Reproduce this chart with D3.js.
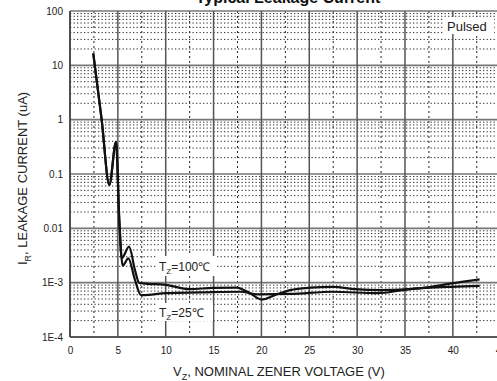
<!DOCTYPE html>
<html><head><meta charset="utf-8">
<script src="https://cdn.jsdelivr.net/npm/d3@7"></script>
<style>
html,body{margin:0;padding:0;background:#fff;overflow:hidden}
svg{display:block;font-family:"Liberation Sans",Arial,sans-serif}
</style></head>
<body><svg id="c" width="497" height="381"></svg>
<script>
// ---- data ----
const xTicks = [0,5,10,15,20,25,30,35,40,45];
const yTicks = [1e-4,1e-3,0.01,0.1,1,10,100];
const yTickLabels = ["1E-4","1E-3","0.01","0.1","1","10","100"];
// Tz = 100 C
const vHot = [2.43,3.31,4.11,4.81,5.15,5.40,6.17,6.79,7.21,7.63,10.0,12.5,14.9,17.4,18.8,20.0,21.4,23.0,25.1,27.5,29.8,32.4,35.5,37.6,39.9,42.8];
const iHot = [16.6,0.99,0.063,0.39,0.0142,0.0028,0.0046,0.0017,0.00100,0.00097,0.00091,0.00076,0.00080,0.00081,0.00064,0.00049,0.00059,0.00073,0.00081,0.00084,0.00076,0.00073,0.00076,0.00083,0.00097,0.00115];
// Tz = 25 C
const vCold = [2.43,3.31,4.11,4.81,5.15,5.51,6.09,6.79,7.42,7.63,10.0,13.6,17.8,19.6,23.0,27.5,32.1,35.5,39.9,42.8];
const iCold = [16.6,0.99,0.063,0.39,0.0142,0.00205,0.0028,0.00112,0.00059,0.00059,0.00064,0.00066,0.00068,0.00061,0.00062,0.00068,0.00064,0.00076,0.00084,0.00087];

const svg = d3.select("#c");
const x = d3.scaleLinear().domain([0,45]).range([70,500.7]);
const y = d3.scaleLog().domain([1e-4,100]).range([337,11]);
const [x0,x1] = x.range(), [yb,yt] = y.range();

const g = svg.append("g");
// minor horizontal dotted lines
const minorY = [];
for (let d=-4; d<2; d++) for (let m=2; m<=9; m++) minorY.push(m*Math.pow(10,d));
g.selectAll("line.my").data(minorY).join("line")
  .attr("x1",x0).attr("x2",x1).attr("y1",d=>y(d)).attr("y2",d=>y(d))
  .attr("stroke","#2a2a2a").attr("stroke-width",1).attr("stroke-dasharray","1.3,2.2");
// minor vertical dash-dot lines
const minorX = d3.range(2.5,45,5);
g.selectAll("line.mx").data(minorX).join("line")
  .attr("x1",d=>x(d)).attr("x2",d=>x(d)).attr("y1",yt).attr("y2",yb)
  .attr("stroke","#222").attr("stroke-width",1).attr("stroke-dasharray","2,3");
// major horizontal
g.selectAll("line.My").data(yTicks).join("line")
  .attr("x1",x0).attr("x2",x1).attr("y1",d=>y(d)).attr("y2",d=>y(d))
  .attr("stroke","#777").attr("stroke-width",1.6);
// major vertical
g.selectAll("line.Mx").data(xTicks).join("line")
  .attr("x1",d=>x(d)).attr("x2",d=>x(d)).attr("y1",yt).attr("y2",yb)
  .attr("stroke","#555").attr("stroke-width",1.5);
// frame
g.append("line").attr("x1",x0).attr("x2",x0).attr("y1",yt).attr("y2",yb).attr("stroke","#444").attr("stroke-width",1.6);
g.append("line").attr("x1",x0).attr("x2",x1).attr("y1",yb).attr("y2",yb).attr("stroke","#444").attr("stroke-width",1.6);

// annotation boxes
function box(bx,by,bw,bh){svg.append("rect").attr("x",bx).attr("y",by).attr("width",bw).attr("height",bh).attr("fill","#fff");}
box(157,256,58,20);
box(157,303,56,18);
box(444,17,50,17);

// curves
const line = d3.line().x(d=>x(d[0])).y(d=>y(d[1])).curve(d3.curveMonotoneX);
[[vHot,iHot],[vCold,iCold]].forEach(([v,i])=>{
  svg.append("path").datum(v.map((vv,k)=>[vv,i[k]])).attr("d",line)
    .attr("fill","none").attr("stroke","#111").attr("stroke-width",2.2).attr("stroke-linejoin","round");
});

// axes
const xa = svg.append("g").attr("transform",`translate(0,${yb})`)
  .call(d3.axisBottom(x).tickValues(xTicks).tickSize(0).tickPadding(10).tickFormat(d3.format("d")));
xa.select(".domain").remove();
xa.selectAll("text").attr("font-size",10).attr("fill","#222").attr("font-family","Liberation Sans, Arial, sans-serif");
const ya = svg.append("g").attr("transform",`translate(${x0},0)`)
  .call(d3.axisLeft(y).tickValues(yTicks).tickSize(0).tickPadding(7).tickFormat((d,k)=>yTickLabels[k]));
ya.select(".domain").remove();
ya.selectAll("text").attr("font-size",10).attr("fill","#222").attr("font-family","Liberation Sans, Arial, sans-serif");

// title
svg.append("text").attr("x",288).attr("y",2.5).attr("text-anchor","middle")
  .attr("font-size",16).attr("font-weight","bold").attr("fill","#111").text("Typical Leakage Current");
// pulsed
svg.append("text").attr("x",447).attr("y",31).attr("font-size",13).attr("fill","#222").text("Pulsed");

// annotations
function tz(tx,ty,rest){
  const t = svg.append("text").attr("x",tx).attr("y",ty).attr("font-size",12).attr("fill","#222");
  t.append("tspan").text("T");
  t.append("tspan").attr("dy",3).attr("font-size",8).text("Z");
  t.append("tspan").attr("dy",-3).text(rest);
}
tz(159,271,"=100℃");
tz(159,317,"=25℃");

// axis titles
const xt = svg.append("text").attr("x",173).attr("y",376).attr("font-size",13).attr("fill","#222");
xt.append("tspan").text("V");
xt.append("tspan").attr("dy",4).attr("font-size",9).text("Z");
xt.append("tspan").attr("dy",-4).text(", NOMINAL ZENER VOLTAGE (V)");

const yt2 = svg.append("text").attr("transform","translate(27,265) rotate(-90)").attr("font-size",13).attr("fill","#222");
yt2.append("tspan").text("I");
yt2.append("tspan").attr("dy",4).attr("font-size",9).text("R");
yt2.append("tspan").attr("dy",-4).text(", LEAKAGE CURRENT (uA)");
</script></body></html>
